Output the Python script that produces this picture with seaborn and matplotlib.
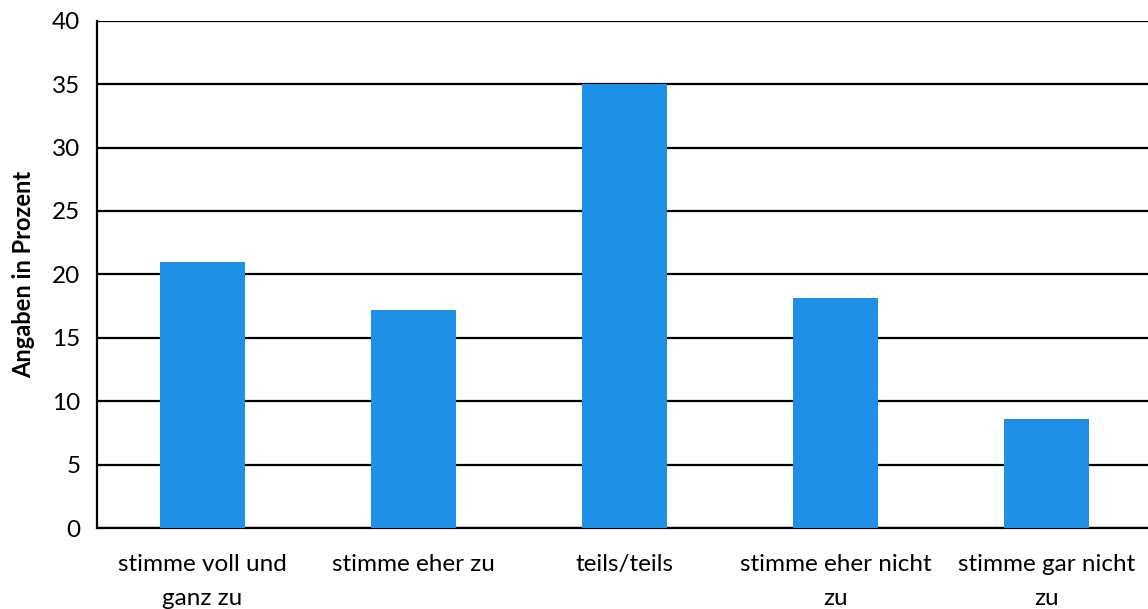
import matplotlib
matplotlib.use("Agg")
import matplotlib.pyplot as plt
import seaborn as sns
import pandas as pd

categories = [
    "stimme voll und\nganz zu",
    "stimme eher zu",
    "teils/teils",
    "stimme eher nicht\nzu",
    "stimme gar nicht\nzu",
]
values = [21.0, 17.2, 35.0, 18.1, 8.6]
y_ticks = [0, 5, 10, 15, 20, 25, 30, 35, 40]

sns.set_theme(style="white")
plt.rcParams["font.family"] = ["Lato", "DejaVu Sans"]

df = pd.DataFrame({"Antwort": categories, "Prozent": values})

fig = plt.figure(figsize=(11.48, 6.09), dpi=100)
ax = fig.add_axes([0.0845, 0.133, 0.919, 0.833])

sns.barplot(data=df, x="Antwort", y="Prozent", color="#1E90E6",
            saturation=1, width=0.4, linewidth=0, ax=ax, zorder=3)

ax.set_ylim(0, 40)
ax.set_yticks(y_ticks)
ax.set_xlim(-0.5, 4.5)
ax.yaxis.grid(True, color="black", linewidth=1.6, zorder=0)
ax.set_axisbelow(True)
for s in ["top", "right"]:
    ax.spines[s].set_visible(False)
for s in ["left", "bottom"]:
    ax.spines[s].set_color("black")
    ax.spines[s].set_linewidth(1.6)
ax.tick_params(axis="both", length=0, labelsize=17.5, colors="black", pad=12)
ax.tick_params(axis="x", pad=19)
ax.set_xlabel("")
ax.set_ylabel("Angaben in Prozent", fontsize=17, fontweight="bold", color="black", labelpad=12)
for lab in ax.get_xticklabels():
    lab.set_linespacing(1.75)

fig.savefig("out.png", dpi=100)
